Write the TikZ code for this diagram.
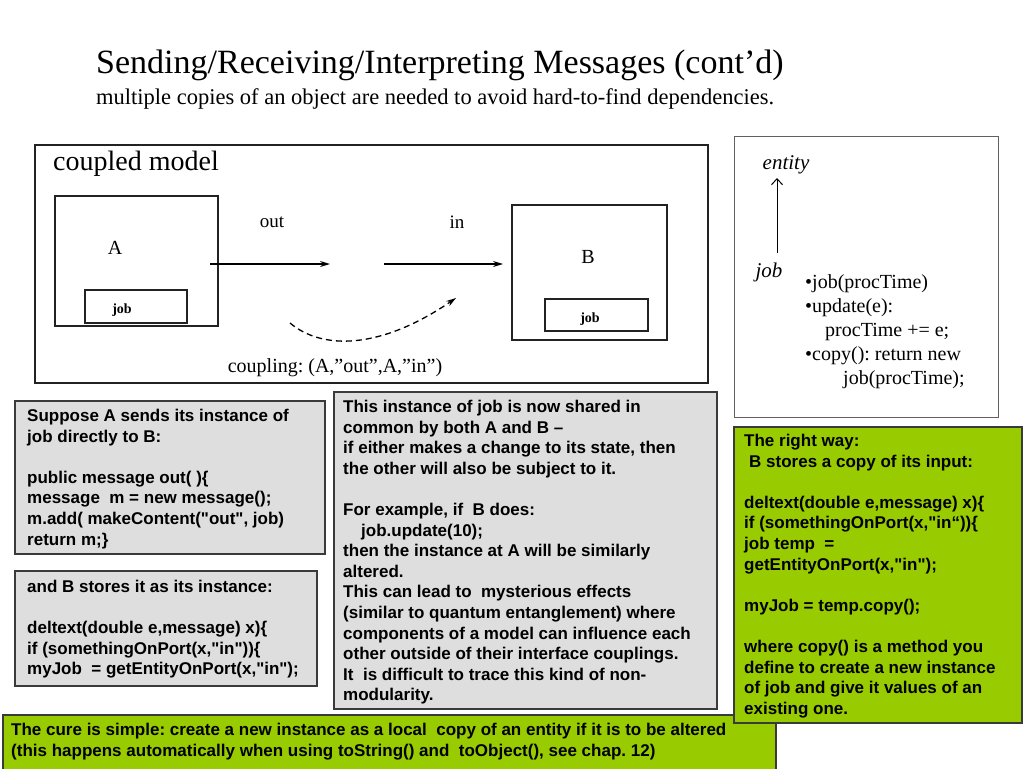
\documentclass[tikz,border=0pt]{standalone}
\usepackage{fontspec}
\setmainfont{Liberation Serif}
\setsansfont{Liberation Sans}[Ligatures=TeXOff]
\frenchspacing
\usetikzlibrary{arrows.meta,positioning}
\definecolor{ink}{HTML}{222222}
\definecolor{boxgray}{HTML}{DEDEDE}
\definecolor{limegreen}{HTML}{99CC00}
\definecolor{edge}{HTML}{3A3A3A}
\tikzset{line width=1.2pt,
  every node/.style={inner sep=0pt,text=black},
  heading/.style={font=\fontsize{34}{40}\selectfont},
  subheading/.style={font=\fontsize{22.5}{27}\selectfont},
  serif/.style={font=\fontsize{20}{24}\selectfont},
  jobtag/.style={font=\fontsize{14}{16}\selectfont\bfseries},
  model/.style={draw=ink,line width=1.3pt},
  note/.style={font=\fontsize{17}{20.6}\selectfont\sffamily\bfseries,align=left,anchor=north west},
  graynote/.style={draw=edge,fill=boxgray,line width=1.2pt},
  greennote/.style={draw=edge,fill=limegreen,line width=1.2pt},
  flow/.style={-{Stealth[length=10pt,width=6pt]},line width=1.3pt},
  coupling/.style={dash pattern=on 6pt off 4pt,-{Stealth[length=10pt,width=6pt]},line width=1.3pt}}
\begin{document}
\begin{tikzpicture}[x=1pt,y=-1pt]
\useasboundingbox (0,0) rectangle (1024,768);
\fill[white] (0,0) rectangle (1024,768);
% heading
\node[heading,anchor=base west] (title) at (96,74) {Sending/Receiving/Interpreting Messages (cont’d)};
\node[subheading,anchor=base west] (subtitle) at (96,104) {multiple copies of an object are needed to avoid hard-to-find dependencies.};
% coupled model
\draw[model,line width=1.5pt] (35,145) rectangle (708,383);
\node[font=\fontsize{28}{32}\selectfont,anchor=base west] (modellbl) at (53,170) {coupled model};
\node[model,minimum width=163,minimum height=130] (boxA) at (136.5,261) {};
\node[model,minimum width=102,minimum height=33] (jobA) at (136,306.5) {};
\node[serif] (lblA) at (115,248) {A};
\node[jobtag] (tagA) at (122,310) {job};
\node[model,minimum width=155,minimum height=135] (boxB) at (589.5,272.5) {};
\node[model,minimum width=103,minimum height=32] (jobB) at (596.5,315) {};
\node[serif] (lblB) at (588,257) {B};
\node[jobtag] (tagB) at (590,319) {job};
\node[serif,font=\fontsize{19}{22}\selectfont] (lblout) at (272,222) {out};
\node[serif,font=\fontsize{19}{22}\selectfont] (lblin) at (457,222) {in};
\coordinate (outfrom) at (210,264);
\coordinate (outto) at (330,264);
\coordinate (infrom) at (384,264);
\coordinate (into) at (503,264);
\draw[flow] (outfrom) -- (outto);
\draw[flow] (infrom) -- (into);
\coordinate (cpfrom) at (290,323);
\coordinate (cpto) at (456,298);
\draw[coupling] (cpfrom) .. controls (322,350) and (380,350) .. (cpto);
\node[serif] (couplinglbl) at (335,368) {coupling: (A,”out”,A,”in”)};
% job class
\draw[draw=edge!80,line width=1pt] (734,136) rectangle (998,417);
\node[serif,font=\fontsize{21}{24}\selectfont\itshape] (entity) at (786,165) {entity};
\node[serif,font=\fontsize{21}{24}\selectfont\itshape] (jobcls) at (769,272) {job};
\coordinate (jobtop) at (777,253);
\coordinate (entitybot) at (777,178);
\draw[-{Straight Barb[length=6pt,width=11pt]},line width=1pt] (jobtop) -- (entitybot);
\node[serif,align=left,anchor=north west] (methods) at (805,274) {•job(procTime)\\•update(e):\\\hspace{20pt}procTime += e;\\•copy(): return new\\\hspace{38pt}job(procTime);};
% notes
\draw[graynote] (15,401) rectangle (325,554);
\node[note] (suppose) at (27,409) {Suppose A sends its instance of\\job directly to B:\\~\\public message out( )\{\\message~ m = new message();\\m.add( makeContent("out", job)\\return m;\}};
\draw[graynote] (15,571) rectangle (317,686);
\node[note] (stores) at (27,580) {and B stores it as its instance:\\~\\deltext(double e,message) x)\{\\if (somethingOnPort(x,"in"))\{\\myJob~ = getEntityOnPort(x,"in");};
\draw[graynote] (334,392) rectangle (717,709);
\node[note] (shared) at (343,400) {This instance of job is now shared in\\common by both A and B –\\if either makes a change to its state, then\\the other will also be subject to it.\\~\\For example, if~ B does:\\\hspace{18pt}job.update(10);\\then the instance at A will be similarly\\altered.\\This can lead to~ mysterious effects\\(similar to quantum entanglement) where\\components of a model can influence each\\other outside of their interface couplings.\\It~ is difficult to trace this kind of non-\\modularity.};
\draw[greennote] (3,715) rectangle (776,770);
\node[note] (cure) at (11,723) {The cure is simple: create a new instance as a local~ copy of an entity if it is to be altered\\(this happens automatically when using toString() and~ toObject(), see chap. 12)};
\draw[greennote] (734,427) rectangle (1022,723);
\node[note] (rightway) at (744,434) {The right way:\\\hspace{5pt}B stores a copy of its input:\\~\\deltext(double e,message) x)\{\\if (somethingOnPort(x,"in“))\{\\job temp~ =\\getEntityOnPort(x,"in");\\~\\myJob = temp.copy();\\~\\where copy() is a method you\\define to create a new instance\\of job and give it values of an\\existing one.};
\end{tikzpicture}
\end{document}
